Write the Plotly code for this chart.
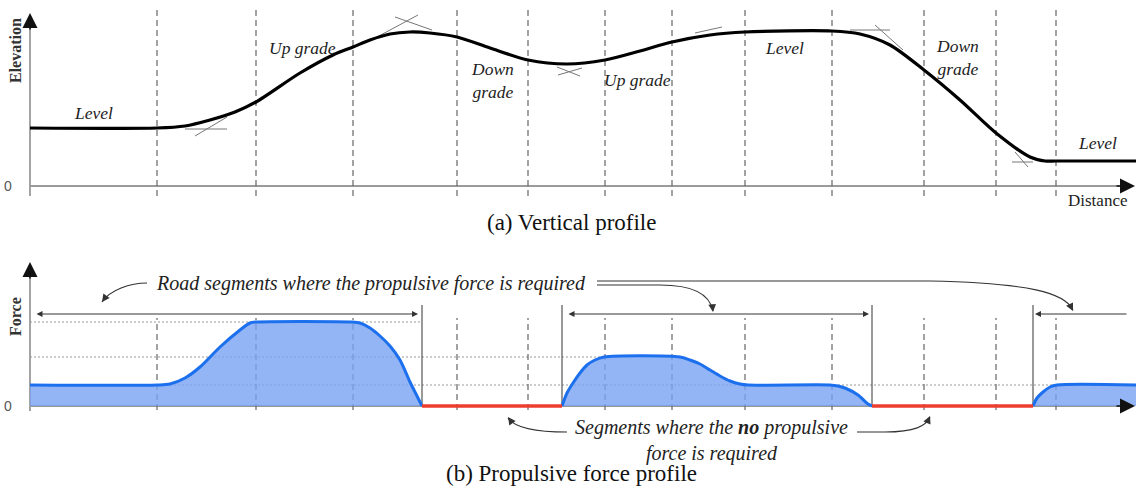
import plotly.graph_objects as go

# ---------------- data ----------------
# segment boundaries along the distance axis (dashed lines)
seg_bounds = [12.7, 22.6, 32.3, 42.7, 49.8, 57.5, 64.2, 71.5, 80.2, 89.4, 96.6, 102.6]
# boundaries between traction / coasting parts (solid lines in panel b)
force_bounds = [39.2, 53.2, 84.2, 100.3]

# (a) vertical profile
elev_d = [0, 12.7, 15.5, 18.0, 20.5, 22.6, 27.0, 30.3, 32.3, 34.0, 36.0, 38.0, 40.0, 42.7,
          46.0, 49.8, 53.7, 57.5, 61.0, 64.2, 68.0, 71.5, 80.2, 83.0, 86.0, 89.4, 93.0,
          96.6, 100.0, 101.5, 102.6, 110.6]
elev_h = [5.8, 5.8, 6.0, 6.6, 7.4, 8.4, 11.3, 13.1, 13.9, 14.6, 15.2, 15.4, 15.3, 14.9,
          13.8, 12.6, 12.2, 12.6, 13.5, 14.4, 15.1, 15.4, 15.5, 15.2, 14.1, 11.6, 8.6,
          5.3, 2.9, 2.5, 2.5, 2.5]

# (b) propulsive force profile (three traction parts)
f1_d = [0, 12.7, 14.0, 15.5, 17.0, 19.0, 21.0, 22.0, 22.6, 32.2, 33.0, 34.0, 35.0, 36.0,
        37.0, 38.0, 38.7, 39.2]
f1_f = [2.1, 2.1, 2.2, 2.8, 3.9, 5.9, 7.6, 8.3, 8.4, 8.4, 8.3, 7.8, 7.0, 6.0,
        4.6, 2.4, 1.0, 0.0]
f2_d = [53.2, 53.7, 54.3, 55.0, 55.7, 56.5, 57.4, 65.0, 66.0, 67.0, 68.0, 69.0, 70.0, 71.0,
        71.8, 80.0, 80.8, 81.5, 82.8, 83.8, 84.2]
f2_f = [0.0, 1.3, 2.3, 3.3, 4.1, 4.6, 4.9, 4.9, 4.6, 4.2, 3.6, 3.0, 2.5, 2.2,
        2.1, 2.1, 2.0, 1.8, 1.1, 0.2, 0.0]
f3_d = [100.3, 100.7, 101.3, 102.0, 102.7, 110.6]
f3_f = [0.0, 0.8, 1.4, 1.9, 2.1, 2.1]
# coasting parts (no propulsive force)
coast_d = [[39.2, 53.2], [84.2, 100.3]]
# dotted reference levels and their extents
ref_levels = [8.4, 4.9, 2.1]
ref_ends = [39.2, 57.4, 110.6]

# tangent marks on the elevation profile: (d0, h0, d1, h1)
tangents = [(15.5, 5.7, 19.7, 5.7), (16.5, 5.0, 19.7, 6.9),
            (34.7, 14.9, 38.8, 17.1), (36.5, 16.9, 40.2, 15.6),
            (52.7, 11.9, 55.0, 11.0), (52.8, 11.1, 55.2, 11.8),
            (66.5, 15.3, 69.2, 15.9),
            (82.0, 15.6, 86.0, 15.6), (84.5, 16.1, 87.3, 13.6),
            (98.2, 2.4, 100.3, 2.4), (98.5, 3.4, 99.8, 1.9)]

# grade labels
grade_text = ["Level", "Up grade", "Down<br>grade", "Up grade", "Level", "Down<br>grade", "Level"]
grade_d = [6.3, 27.2, 46.2, 60.7, 75.4, 92.7, 106.7]
grade_h = [7.3, 13.8, 10.6, 10.6, 13.8, 12.9, 4.3]

SERIF = "Liberation Serif, Times New Roman, serif"
SANS = "Liberation Sans, Arial, sans-serif"
BLUE = "rgb(28,112,238)"
FILL = "rgba(120,162,242,0.8)"
RED = "rgb(238,62,46)"
GRAY = "#666666"
AXIS = "#9a9a9a"

fig = go.Figure()

# ---------- panel (a) ----------
fig.add_trace(go.Scatter(x=[0, 0, None, 0, 109], y=[-1.0, 16.5, None, 0, 0], mode="lines",
                         xaxis="x", yaxis="y", line=dict(color=AXIS, width=1.8), hoverinfo="skip"))
vx, vy = [], []
for b in seg_bounds:
    vx += [b, b, None]
    vy += [-1.0, 17.8, None]
fig.add_trace(go.Scatter(x=vx, y=vy, mode="lines", xaxis="x", yaxis="y",
                         line=dict(color=GRAY, width=1.2, dash="6px,4px"), hoverinfo="skip"))
for (a0, b0, a1, b1) in tangents:
    fig.add_trace(go.Scatter(x=[a0, a1], y=[b0, b1], mode="lines", xaxis="x", yaxis="y",
                             line=dict(color="#777777", width=1), hoverinfo="skip"))
fig.add_trace(go.Scatter(x=elev_d, y=elev_h, mode="lines", xaxis="x", yaxis="y",
                         line=dict(color="black", width=3.2, shape="spline", smoothing=0.8),
                         hoverinfo="skip"))

# ---------- panel (b) ----------
fig.add_trace(go.Scatter(x=[0, 0, None, 0, 109], y=[-0.5, 13.6, None, 0, 0], mode="lines",
                         xaxis="x", yaxis="y2", line=dict(color=AXIS, width=1.8), hoverinfo="skip"))
for lvl, end in zip(ref_levels, ref_ends):
    fig.add_trace(go.Scatter(x=[0, end], y=[lvl, lvl], mode="lines", xaxis="x", yaxis="y2",
                             line=dict(color="#999999", width=1, dash="2px,2px"), hoverinfo="skip"))
bx, by = [], []
for b in seg_bounds:
    bx += [b, b, None]
    by += [-0.4, 8.8, None]
fig.add_trace(go.Scatter(x=bx, y=by, mode="lines", xaxis="x", yaxis="y2",
                         line=dict(color=GRAY, width=1.2, dash="6px,4px"), hoverinfo="skip"))
sx, sy = [], []
for b in force_bounds:
    sx += [b, b, None]
    sy += [0, 10.1, None]
fig.add_trace(go.Scatter(x=sx, y=sy, mode="lines", xaxis="x", yaxis="y2",
                         line=dict(color="#555555", width=1.2), hoverinfo="skip"))
for fd, ff in [(f1_d, f1_f), (f2_d, f2_f), (f3_d, f3_f)]:
    fig.add_trace(go.Scatter(x=fd, y=ff, mode="lines", xaxis="x", yaxis="y2", fill="tozeroy",
                             fillcolor=FILL,
                             line=dict(color=BLUE, width=3, shape="spline", smoothing=0.8),
                             hoverinfo="skip"))
for c0, c1 in coast_d:
    fig.add_trace(go.Scatter(x=[c0, c1], y=[0, 0], mode="lines", xaxis="x", yaxis="y2",
                             line=dict(color=RED, width=3.5), hoverinfo="skip"))

annotations = []
shapes = []

def arrow(x, y, ax, ay, yref, width=1.5, size=1.6, color="#555555", both=False):
    d = dict(x=x, y=y, ax=ax, ay=ay, xref="x", yref=yref, axref="x", ayref=yref,
             text="", showarrow=True, arrowhead=2, arrowsize=size, arrowwidth=width,
             arrowcolor=color, standoff=0, startstandoff=0)
    if both:
        d.update(arrowside="end+start", startarrowhead=2, startarrowsize=size)
    annotations.append(d)

# axis arrowheads
arrow(0, 17.3, 0, 15.5, "y", width=1.5, size=2.0, color="#111111")
arrow(110.5, 0, 108.5, 0, "y", width=1.5, size=2.0, color="#111111")
arrow(0, 14.4, 0, 12.6, "y2", width=1.5, size=2.0, color="#111111")
arrow(110.5, 0, 108.5, 0, "y2", width=1.5, size=2.0, color="#111111")

# double arrows for traction segments
arrow(38.8, 9.2, 0.5, 9.2, "y2", width=1, size=1.2, color="#333333", both=True)
arrow(83.9, 9.2, 53.7, 9.2, "y2", width=1, size=1.2, color="#333333", both=True)
arrow(100.5, 9.2, 109.8, 9.2, "y2", width=1, size=1.2, color="#333333")

# curved pointer arrows (paths + small heads)
curves = [
    ("M 11.7,12.3 C 10.0,12.3 8.0,11.6 7.2,10.4", (7.2, 10.4, 7.7, 11.1)),
    ("M 56.7,12.1 L 63.0,12.1 C 66.5,12.1 68.0,11.1 68.3,9.5", (68.3, 9.4, 68.2, 10.3)),
    ("M 56.7,12.5 L 90.0,12.5 C 100.0,12.3 103.5,11.3 104.3,9.6", (104.3, 9.5, 103.9, 10.3)),
    ("M 53.7,-2.6 C 50.5,-2.6 48.5,-2.2 47.8,-1.2", (47.8, -1.1, 48.3, -1.8)),
    ("M 82.7,-2.6 L 85.5,-2.6 C 88.5,-2.6 89.6,-2.0 90.0,-1.1", (90.0, -1.0, 89.7, -1.7)),
]
for path, (hx, hy, tx, ty) in curves:
    shapes.append(dict(type="path", path=path, xref="x", yref="y2",
                       line=dict(color="#333333", width=1.1)))
    arrow(hx, hy, tx, ty, "y2", width=1.1, size=1.4, color="#333333")

# grade labels
for t, d, h in zip(grade_text, grade_d, grade_h):
    annotations.append(dict(x=d, y=h, xref="x", yref="y", text="<i>%s</i>" % t, showarrow=False,
                            font=dict(family=SERIF, size=17.5, color="#222222")))

# axis texts
annotations += [
    dict(x=-1.5, y=13.5, xref="x", yref="y", text="<b>Elevation</b>", textangle=-90, showarrow=False,
         font=dict(family=SERIF, size=16, color="#333333")),
    dict(x=-2.2, y=0, xref="x", yref="y", text="0", showarrow=False,
         font=dict(family=SANS, size=14, color="#555555")),
    dict(x=109.9, y=-1.4, xref="x", yref="y", text="Distance", showarrow=False, xanchor="right",
         font=dict(family=SERIF, size=17, color="#222222")),
    dict(x=54.1, y=-3.6, xref="x", yref="y", text="(a) Vertical profile", showarrow=False,
         font=dict(family=SERIF, size=23, color="#111111")),
    dict(x=-1.5, y=8.9, xref="x", yref="y2", text="<b>Force</b>", textangle=-90, showarrow=False,
         font=dict(family=SERIF, size=16, color="#333333")),
    dict(x=-2.2, y=0, xref="x", yref="y2", text="0", showarrow=False,
         font=dict(family=SANS, size=14, color="#555555")),
    dict(x=54.1, y=-6.7, xref="x", yref="y2", text="(b) Propulsive force profile", showarrow=False,
         font=dict(family=SERIF, size=23, color="#111111")),
    dict(x=34.1, y=12.3, xref="x", yref="y2",
         text="<i>Road segments where the propulsive force is required</i>", showarrow=False,
         font=dict(family=SERIF, size=20, color="#222222")),
    dict(x=68.1, y=-3.4, xref="x", yref="y2",
         text="<i>Segments where the <b>no</b> propulsive<br>force is required</i>", showarrow=False,
         font=dict(family=SERIF, size=20, color="#222222")),
]

fig.update_layout(
    width=1136, height=489, margin=dict(l=0, r=0, t=0, b=0, pad=0),
    paper_bgcolor="white", plot_bgcolor="white", showlegend=False,
    xaxis=dict(range=[-3, 110.6], domain=[0, 1], visible=False, fixedrange=True),
    yaxis=dict(range=[-4.4, 18.6], domain=[1 - 230 / 489, 1], visible=False, anchor="x"),
    yaxis2=dict(range=[-8.3, 16.6], domain=[0, 249 / 489], visible=False, anchor="x"),
    annotations=annotations, shapes=shapes,
)

fig.write_html("out.html")
